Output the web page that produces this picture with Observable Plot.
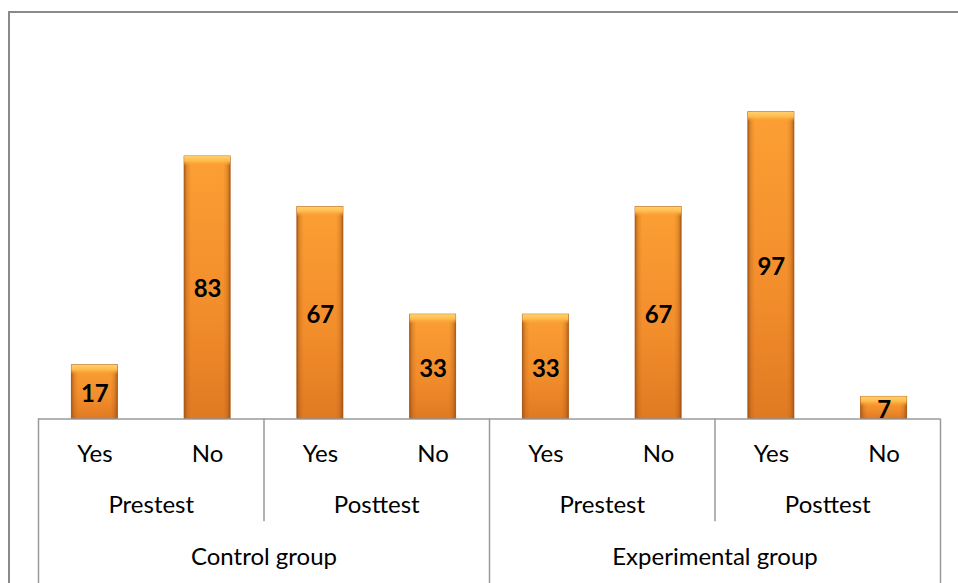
<!DOCTYPE html>
<html>
<head>
<meta charset="utf-8">
<script src="https://cdn.jsdelivr.net/npm/d3@7"></script>
<script src="https://cdn.jsdelivr.net/npm/@observablehq/plot@0.6"></script>
<style>
  html, body { margin: 0; padding: 0; background: #fff; }
  #wrap { position: relative; width: 958px; height: 583px; overflow: hidden; }
  #border { position: absolute; left: 8px; top: 11px; width: 960px; height: 580px;
            border-left: 2px solid #8a8a8a; border-top: 2px solid #8a8a8a; }
  #chart { position: absolute; left: 0; top: 0; }
</style>
</head>
<body>
<div id="wrap"><div id="border"></div><div id="chart"></div></div>
<script>
const categories = ["Yes", "No", "Yes", "No", "Yes", "No", "Yes", "No"];
const values = [17, 83, 67, 33, 33, 67, 97, 7];
const tests = ["Prestest", "Posttest", "Prestest", "Posttest"];
const groups = ["Control group", "Experimental group"];

const bars = values.map((v, i) => ({i, v, cat: categories[i]}));
const testRows = tests.map((t, k) => ({k, t}));
const groupRows = groups.map((g, k) => ({k, g}));
const pad = 0.296;
const bevel = 3.1;

const font = "Lato, 'Noto Sans', sans-serif";

const svg = Plot.plot({
  width: 958,
  height: 583,
  marginLeft: 38,
  marginRight: 18,
  marginTop: 39,
  marginBottom: 0,
  style: {fontFamily: font, background: "transparent"},
  x: {type: "linear", domain: [0, 8], axis: null},
  y: {domain: [-52, 120], axis: null},
  marks: [
    Plot.rectY(bars, {x1: d => d.i + pad, x2: d => d.i + 1 - pad, y1: 0, y2: "v",
      fill: "url(#barV)", stroke: "#b0601c", strokeWidth: 0.9,
      style: "filter: drop-shadow(1px 1px 2px rgba(0,0,0,0.35))"}),
    Plot.rectY(bars, {x1: d => d.i + pad, x2: d => d.i + 1 - pad, y1: 0, y2: "v",
      fill: "url(#barH)"}),
    Plot.rectY(bars, {x1: d => d.i + pad, x2: d => d.i + 1 - pad,
      y1: d => Math.max(d.v - bevel, d.v * 0.5), y2: "v", fill: "url(#bevel)"}),
    Plot.ruleY([0], {stroke: "#9a9a9a", strokeWidth: 1.5}),
    Plot.ruleX([0, 4, 8], {y1: 0, y2: -52, stroke: "#9a9a9a", strokeWidth: 1.5}),
    Plot.ruleX([2, 6], {y1: 0, y2: -32.5, stroke: "#9a9a9a", strokeWidth: 1.5}),
    Plot.text(bars, {x: d => d.i + 0.5, y: -11.3, text: "cat", fontSize: 24, fill: "#000", lineAnchor: "middle"}),
    Plot.text(testRows, {x: d => d.k * 2 + 1, y: -27.4, text: "t", fontSize: 24, fill: "#000", lineAnchor: "middle"}),
    Plot.text(groupRows, {x: d => d.k * 4 + 2, y: -43.6, text: "g", fontSize: 24, fill: "#000", lineAnchor: "middle"}),
    Plot.text(bars, {x: d => d.i + 0.5, y: d => d.v / 2, dy: 2, text: d => String(d.v), fontSize: 24,
      fontWeight: "bold", fill: "#000", lineAnchor: "middle"})
  ]
});

d3.select(svg).insert("defs", ":first-child").html(`
  <linearGradient id="barV" x1="0" y1="0" x2="0" y2="1">
    <stop offset="0" stop-color="#fb9f33"/>
    <stop offset="0.6" stop-color="#f28d2c"/>
    <stop offset="1" stop-color="#e07a22"/>
  </linearGradient>
  <linearGradient id="barH" x1="0" y1="0" x2="1" y2="0">
    <stop offset="0" stop-color="#8a420c" stop-opacity="0.6"/>
    <stop offset="0.07" stop-color="#8a420c" stop-opacity="0.18"/>
    <stop offset="0.15" stop-color="#8a420c" stop-opacity="0"/>
    <stop offset="0.85" stop-color="#8a420c" stop-opacity="0"/>
    <stop offset="0.93" stop-color="#8a420c" stop-opacity="0.18"/>
    <stop offset="1" stop-color="#8a420c" stop-opacity="0.6"/>
  </linearGradient>
  <linearGradient id="bevel" x1="0" y1="0" x2="0" y2="1">
    <stop offset="0" stop-color="#ffd070"/>
    <stop offset="0.5" stop-color="#ffbb4a"/>
    <stop offset="1" stop-color="#fb9f33" stop-opacity="0"/>
  </linearGradient>
`);

document.getElementById("chart").appendChild(svg);
</script>
</body>
</html>
